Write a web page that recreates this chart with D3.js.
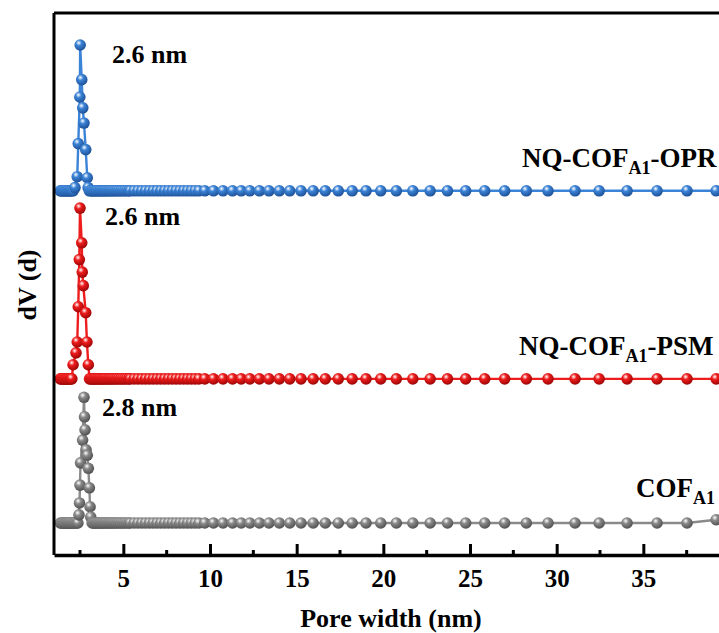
<!DOCTYPE html>
<html><head><meta charset="utf-8">
<script src="https://cdn.jsdelivr.net/npm/d3@7"></script>
<style>html,body{margin:0;padding:0;overflow:hidden;background:#fff;}</style>
</head><body><svg id="c" width="719" height="633"></svg>
<script>
// ---- data (pore width in nm, dV in arbitrary units) ----
const flatLeft = [1.36,1.42,1.48,1.54,1.60,1.66,1.72,1.78,1.84,1.90,1.96];
const flatRight = [3.27,3.34,3.41,3.48,3.56,3.64,3.72,3.80,3.88,3.96,4.05,4.14,4.23,4.32,4.42,4.52,4.62,4.73,4.84,4.95,5.07,5.19,5.31,
  5.40,5.62,5.84,6.06,6.28,6.50,6.72,6.94,7.16,7.38,7.60,7.82,8.04,8.26,8.48,8.70,8.92,9.14,9.36,
  9.70,10.2,10.75,11.3,11.8,12.3,12.85,13.4,14.0,14.6,15.25,15.95,16.65,17.4,18.2,19.0,19.85,20.75,21.7,22.7,23.7,24.75,25.85,27.0,28.25,29.5,31.06,32.45,34.06,35.79,37.52,39.2];

const bluePeakW = [2.03,2.10,2.21,2.34,2.40,2.49,2.51,2.60,2.66,2.73,2.83,2.92,2.97,3.04,3.12,3.20];
const bluePeakV = [0,0,0.06,0.26,0.87,1.73,2.69,2.05,1.53,1.25,0.76,0.24,0.06,0,0,0];
const redPeakW  = [2.03,2.10,2.27,2.34,2.40,2.46,2.50,2.60,2.63,2.69,2.83,2.90,2.98,3.05,3.12,3.20];
const redPeakV  = [0,0.26,0.48,0.68,1.33,2.20,3.15,2.51,1.97,1.72,1.22,0.68,0.26,0,0,0];
const grayPeakW = [2.03,2.10,2.17,2.24,2.31,2.38,2.44,2.47,2.50,2.53,2.65,2.73,2.76,2.79,2.85,2.92,2.98,3.04,3.08,3.12,3.20];
const grayPeakV = [0,0,0,0,0,0,0.15,0.37,0.70,1.11,1.53,2.32,1.96,1.72,1.35,1.25,1.01,0.65,0.30,0.11,0];
const grayEndValue = 0.06;

const seriesNames = ["NQ-COF_A1-OPR","NQ-COF_A1-PSM","COF_A1"];
const seriesOffsets = [6.72, 3.25, 0.59];
const peakLabels = ["2.6 nm","2.6 nm","2.8 nm"];
const xTicks = [5,10,15,20,25,30,35];
const xMinorTicks = [2.5,7.5,12.5,17.5,22.5,27.5,32.5,37.5];

// ---- build series ----
function build(pw, pv, endV){
  return flatLeft.map(w=>({w, v:0}))
    .concat(pw.map((w,i)=>({w, v:pv[i]})))
    .concat(flatRight.map((w,i)=>({w, v:(i===flatRight.length-1 && endV!=null)?endV:0})));
}
const series = [
  {name:seriesNames[0], off:seriesOffsets[0], pts:build(bluePeakW,bluePeakV), color:"#3b83d6", dark:"#1d4f95", label:peakLabels[0]},
  {name:seriesNames[1], off:seriesOffsets[1], pts:build(redPeakW,redPeakV), color:"#ee1c1c", dark:"#9a0505", label:peakLabels[1]},
  {name:seriesNames[2], off:seriesOffsets[2], pts:build(grayPeakW,grayPeakV,grayEndValue), color:"#8a8a8a", dark:"#4e4e4e", label:peakLabels[2]}
];

const svg = d3.select("#c");
const x = d3.scaleLinear().domain([1,40]).range([54,730]);
const y = d3.scaleLinear().domain([0,10]).range([555,13]);
const font = "'Liberation Serif','Times New Roman',serif";

// gradients
const defs = svg.append("defs");
series.forEach((s,i)=>{
  const g = defs.append("radialGradient").attr("id","g"+i).attr("cx","38%").attr("cy","32%").attr("r","70%");
  g.append("stop").attr("offset","0%").attr("stop-color","#ffffff");
  g.append("stop").attr("offset","35%").attr("stop-color",s.color);
  g.append("stop").attr("offset","100%").attr("stop-color",s.dark);
});

// series
const line = d3.line().x(d=>x(d.w)).y(d=>y(d.v));
series.forEach((s,i)=>{
  const data = s.pts.map(p=>({w:p.w, v:p.v+s.off}));
  svg.append("path").datum(data).attr("d",line).attr("fill","none")
    .attr("stroke",s.color).attr("stroke-width",2.4);
  svg.append("g").selectAll("circle").data(data).join("circle")
    .attr("cx",d=>x(d.w)).attr("cy",d=>y(d.v)).attr("r",5.8)
    .attr("fill","url(#g"+i+")");
});

// frame
svg.append("line").attr("x1",54).attr("x2",54).attr("y1",y(10)).attr("y2",y(0)).attr("stroke","#000").attr("stroke-width",3);
svg.append("line").attr("x1",54).attr("x2",730).attr("y1",y(10)).attr("y2",y(10)).attr("stroke","#000").attr("stroke-width",3);

// x axis
const ax = svg.append("g").attr("transform",`translate(0,${y(0)})`)
  .call(d3.axisBottom(x).tickValues(xTicks).tickSize(-11).tickPadding(14).tickSizeOuter(0));
ax.select(".domain").attr("stroke-width",3.5);
ax.selectAll(".tick line").attr("stroke-width",3);
ax.selectAll("text").attr("font-family",font).attr("font-weight","bold").attr("font-size",25).attr("fill","#000");
svg.append("g").attr("transform",`translate(0,${y(0)})`).selectAll("line").data(xMinorTicks.concat([40])).join("line")
  .attr("x1",d=>x(d)).attr("x2",d=>x(d)).attr("y1",0).attr("y2",d=>d===40?-11:-5).attr("stroke","#000").attr("stroke-width",3);

// axis titles
svg.append("text").attr("x",391).attr("y",627).attr("text-anchor","middle")
  .attr("font-family",font).attr("font-weight","bold").attr("font-size",26).text("Pore width (nm)");
svg.append("text").attr("transform","translate(36,285) rotate(-90)").attr("text-anchor","middle")
  .attr("font-family",font).attr("font-weight","bold").attr("font-size",26).text("dV (d)");

// peak labels
const peakPos = [[112,63],[105,225],[102,416]];
series.forEach((s,i)=>{
  svg.append("text").attr("x",peakPos[i][0]).attr("y",peakPos[i][1])
    .attr("font-family",font).attr("font-weight","bold").attr("font-size",26).text(s.label);
});

// series labels with subscript
const namePos = [[522,167],[519,355],[636,497]];
series.forEach((s,i)=>{
  const parts = s.name.split("_A1");
  const t = svg.append("text").attr("x",namePos[i][0]).attr("y",namePos[i][1])
    .attr("font-family",font).attr("font-weight","bold").attr("font-size",27);
  t.append("tspan").text(parts[0]);
  t.append("tspan").attr("font-size",18).attr("dy",7).text("A1");
  if (parts[1]) t.append("tspan").attr("dy",-7).text(parts[1]);
});
</script></body></html>
